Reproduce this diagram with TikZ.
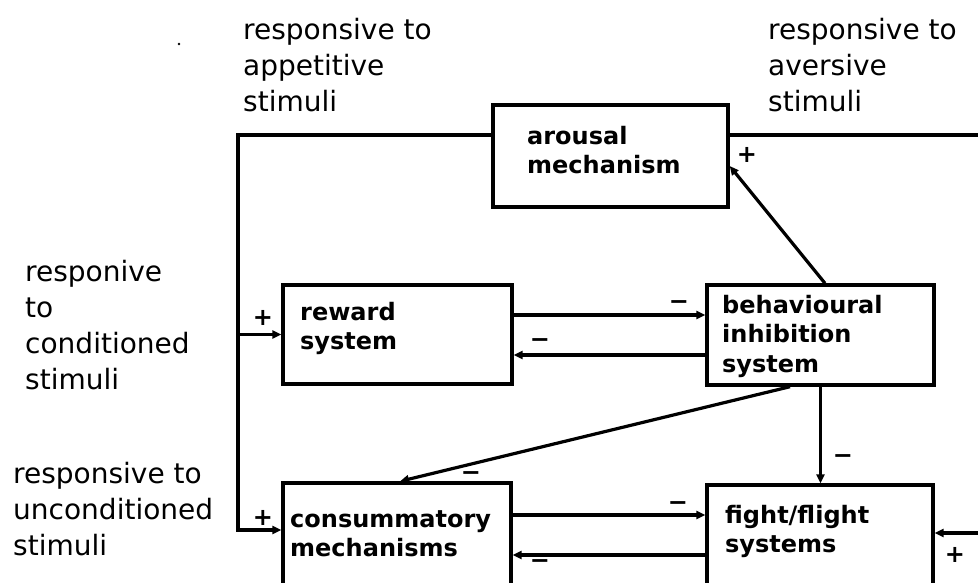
\documentclass[tikz,border=0pt]{standalone}
\usepackage{fontspec}
\setmainfont{DejaVu Sans}
\usetikzlibrary{arrows.meta}
\begin{document}
\begin{tikzpicture}[x=1pt,y=-1pt,
  box/.style={draw,line width=3.4pt,inner sep=0pt},
  lbl/.style={anchor=north west,inner sep=0pt,align=left,font=\fontsize{28}{36}\selectfont},
  btxt/.style={anchor=north west,inner sep=0pt,align=left,font=\fontsize{24}{29.5}\selectfont\bfseries},
  sgn/.style={inner sep=0pt,font=\fontsize{24}{24}\selectfont\bfseries},
  conn/.style={line width=3.2pt},
  arr/.style={conn,-{Triangle[length=9pt,width=8pt]}}]
\useasboundingbox (0,0) rectangle (978,582);
\clip (0,0) rectangle (978,582);
% boxes
\node[box,minimum width=235pt,minimum height=102pt] (arousal) at (610.5,156) {};
\node[box,minimum width=229pt,minimum height=99pt] (reward) at (397.5,334.5) {};
\node[box,minimum width=227pt,minimum height=100pt] (bis) at (820.5,335) {};
\node[box,minimum width=228pt,minimum height=158pt] (consum) at (397,562) {};
\node[box,minimum width=226pt,minimum height=156pt] (ff) at (820,563) {};
% box texts
\node[btxt] (aroT) at (527,126) {arousal\\mechanism};
\node[btxt] (rewT) at (300,302) {reward\\system};
\node[btxt] (bisT) at (722,295) {behavioural\\inhibition\\system};
\node[btxt] (conT) at (290,510) {consummatory\\mechanisms};
\node[btxt] (ffT) at (725,505) {fight/flight\\systems};
% free labels
\node[lbl] (appT) at (243,18) {responsive to\\appetitive\\stimuli};
\node[lbl] (avT) at (768,18) {responsive to\\aversive\\stimuli};
\node[lbl] (condT) at (25,260) {responive\\to\\conditioned\\stimuli};
\node[lbl] (uncT) at (13,462) {responsive to\\unconditioned\\stimuli};
% connectors
\coordinate (tl) at (238,135);
\coordinate (tr) at (978,135);
\coordinate (rin) at (978,533);
\draw[conn] (tr) -- (tr -| arousal.east);
\draw[arr] (arousal.west |- tl) -- (tl) |- (reward.west);
\draw[arr] (tl |- reward.west) |- (consum.west |- 0,530);
\draw[arr] ([xshift=4.5pt]bis.north) -- (arousal.east |- 0,166);
\draw[arr] (reward.east |- 0,315) -- (bis.west |- 0,315);
\draw[arr] (bis.west |- 0,355) -- (reward.east |- 0,355);
\draw[arr] (bis.south -| 790,0) -- (consum.north -| 400,0);
\draw[arr] (bis.south) -- (bis.south |- ff.north);
\draw[arr] (consum.east |- 0,515) -- (ff.west |- 0,515);
\draw[arr] (ff.west |- 0,555) -- (consum.east |- 0,555);
\draw[arr] (rin) -- (ff.east |- rin);
% signs
\node[sgn] (p1) at (747,155) {+};
\node[sgn] (p2) at (263,318) {+};
\node[sgn] (p3) at (263,518) {+};
\node[sgn] (p4) at (955,555) {+};
\node[sgn] (m1) at (679,305) {−};
\node[sgn] (m2) at (540,343) {−};
\node[sgn] (m3) at (471,476) {−};
\node[sgn] (m4) at (843,459) {−};
\node[sgn] (m5) at (678,506) {−};
\node[sgn] (m6) at (540,564) {−};
\fill (179,44) circle (1.3pt);
\end{tikzpicture}
\end{document}
